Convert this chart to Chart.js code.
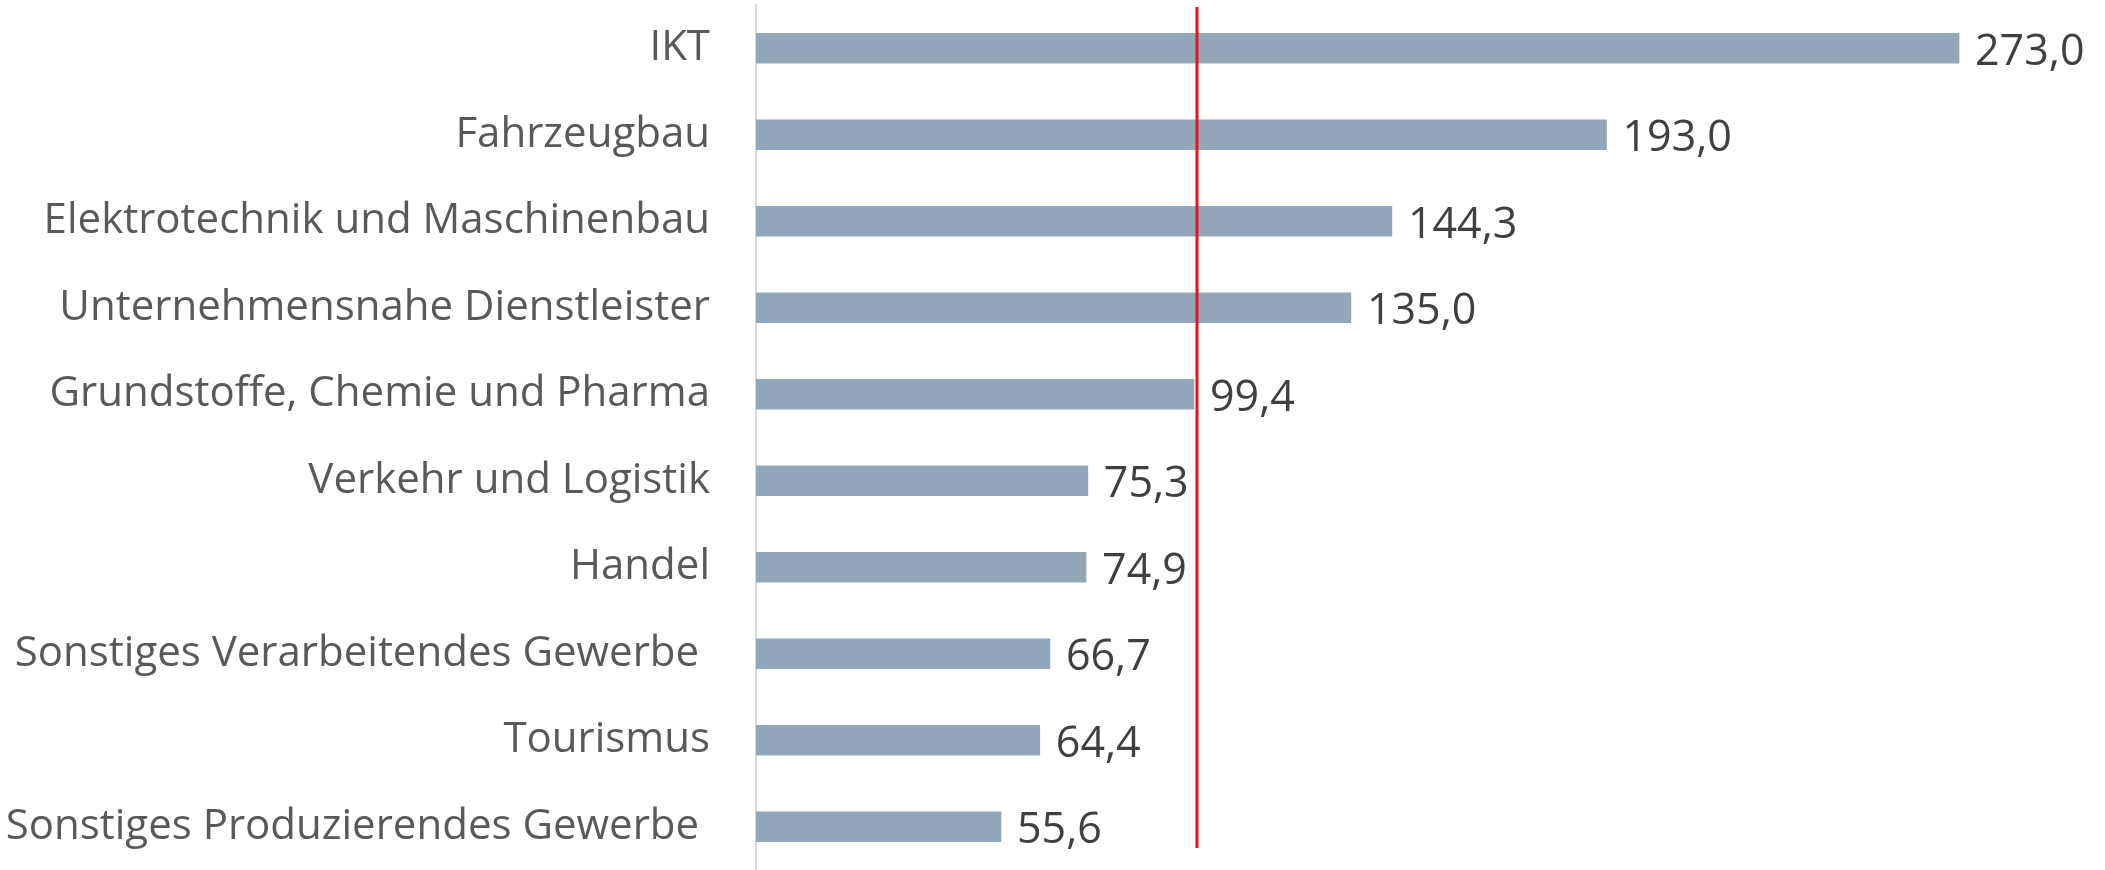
<!DOCTYPE html>
<html>
<head>
<meta charset="utf-8">
<script src="https://cdn.jsdelivr.net/npm/chart.js@4"></script>
<style>
  html, body { margin: 0; padding: 0; background: #fff; }
  #wrap { width: 2105px; height: 870px; position: relative; }
</style>
</head>
<body>
<div id="wrap"><canvas id="chart"></canvas></div>
<script>
const categories = [
  "IKT",
  "Fahrzeugbau",
  "Elektrotechnik und Maschinenbau",
  "Unternehmensnahe Dienstleister",
  "Grundstoffe, Chemie und Pharma",
  "Verkehr und Logistik",
  "Handel",
  "Sonstiges Verarbeitendes Gewerbe ",
  "Tourismus",
  "Sonstiges Produzierendes Gewerbe "
];
const values = [273.0, 193.0, 144.3, 135.0, 99.4, 75.3, 74.9, 66.7, 64.4, 55.6];
const refValue = 100;

function fmtDe(v) {
  return v.toFixed(1).replace(".", ",");
}

// value labels right of each bar
const valueLabels = {
  id: "valueLabels",
  afterDatasetsDraw(chart) {
    const ctx = chart.ctx;
    const meta = chart.getDatasetMeta(0);
    ctx.save();
    ctx.font = "43px 'Open Sans'";
    ctx.fillStyle = "#404040";
    ctx.textAlign = "left";
    ctx.textBaseline = "middle";
    meta.data.forEach((bar, i) => {
      ctx.fillText(fmtDe(values[i]), bar.x + 16, bar.y + 4);
    });
    ctx.restore();
  }
};

// red reference line at 100
const refLine = {
  id: "refLine",
  afterDatasetsDraw(chart) {
    const x = Math.round(chart.scales.x.getPixelForValue(refValue));
    const ctx = chart.ctx;
    ctx.save();
    ctx.strokeStyle = "#ee1111";
    ctx.lineWidth = 3;
    ctx.beginPath();
    ctx.moveTo(x, 7);
    ctx.lineTo(x, 848);
    ctx.stroke();
    ctx.restore();
  }
};

new Chart(document.getElementById("chart"), {
  type: "bar",
  data: {
    labels: categories,
    datasets: [{
      data: values,
      backgroundColor: "#93a7bb",
      barThickness: 30
    }]
  },
  options: {
    indexAxis: "y",
    responsive: true,
    maintainAspectRatio: false,
    animation: false,
    layout: { padding: { top: 5, right: 27, bottom: -3, left: 0 } },
    plugins: { legend: { display: false }, tooltip: { enabled: false } },
    scales: {
      x: {
        min: 0,
        max: 300,
        display: false
      },
      y: {
        grid: { display: false },
        border: { display: true, color: "#d9d9d9", width: 2 },
        ticks: {
          padding: 38,
          color: "#595959",
          font: { family: "'Open Sans'", size: 42 }
        },
        afterFit(scale) {
          scale.width = 756;
          scale.paddingTop = 0;
          scale.paddingBottom = 0;
        }
      }
    }
  },
  plugins: [valueLabels, refLine]
});
</script>
</body>
</html>
